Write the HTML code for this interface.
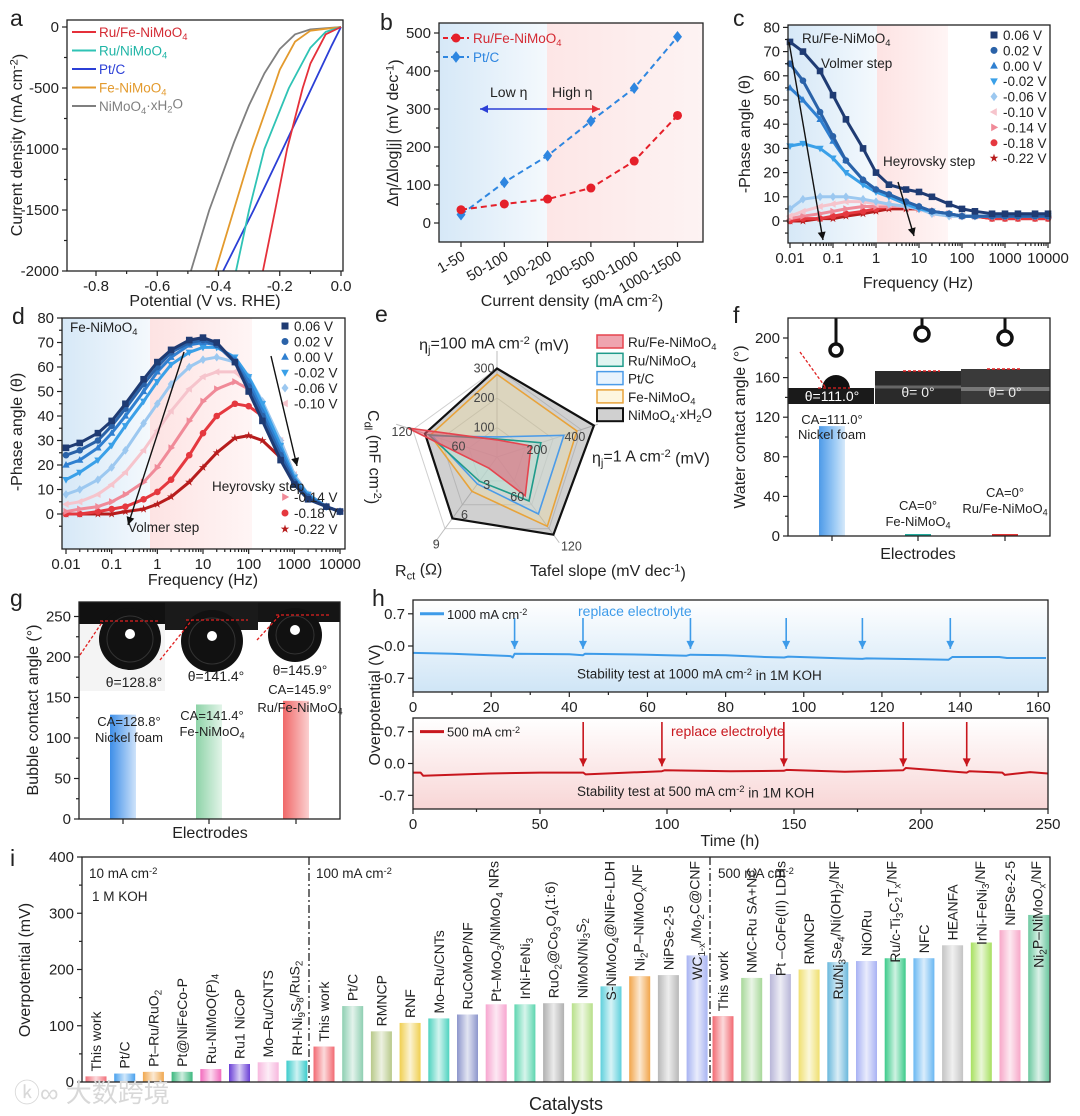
<!DOCTYPE html>
<html><head><meta charset="utf-8"><style>
html,body{margin:0;padding:0;background:#fff;}
svg{display:block;font-family:"Liberation Sans","Noto Sans CJK SC",sans-serif;}
</style></head><body>
<svg id="fig" width="1080" height="1116" viewBox="0 0 1080 1116" xmlns="http://www.w3.org/2000/svg">
<defs>
<linearGradient id="gBlueL" x1="0" x2="1"><stop offset="0" stop-color="#d6e8f7"/><stop offset="1" stop-color="#f4f9fd"/></linearGradient>
<linearGradient id="gRedR" x1="0" x2="1"><stop offset="0" stop-color="#fde6e6"/><stop offset="1" stop-color="#fdf3f3"/></linearGradient>
<linearGradient id="gRedL" x1="0" x2="1"><stop offset="0" stop-color="#fde3e3"/><stop offset="1" stop-color="#fff5f5"/></linearGradient>
<linearGradient id="gHtop" x1="0" y1="0" x2="0" y2="1"><stop offset="0" stop-color="#ffffff"/><stop offset="1" stop-color="#cfe5f6"/></linearGradient>
<linearGradient id="gHbot" x1="0" y1="0" x2="0" y2="1"><stop offset="0" stop-color="#ffffff"/><stop offset="1" stop-color="#f8d6d6"/></linearGradient>
<linearGradient id="shine" x1="0" x2="1"><stop offset="0" stop-color="#fff" stop-opacity="0"/><stop offset="0.5" stop-color="#fff" stop-opacity="0.75"/><stop offset="1" stop-color="#fff" stop-opacity="0"/></linearGradient>
</defs>
</svg>
<script>
// ---------------- DATA ----------------
const aSeriesNames=["Ru/Fe-NiMoO_{4}","Ru/NiMoO_{4}","Pt/C","Fe-NiMoO_{4}","NiMoO_{4}·xH_{2}O"];
const aRedV=[0,-0.05,-0.1,-0.125,-0.176,-0.215,-0.255];
const aRedJ=[0,-60,-300,-500,-1000,-1500,-2000];
const aCyanV=[0,-0.05,-0.1,-0.17,-0.25,-0.3,-0.343];
const aCyanJ=[0,-40,-170,-500,-1000,-1500,-2000];
const aBlueV=[0,-0.03,-0.096,-0.19,-0.285,-0.385];
const aBlueJ=[0,-150,-500,-1000,-1500,-2000];
const aOrangeV=[0,-0.1,-0.15,-0.2,-0.22,-0.29,-0.35,-0.41];
const aOrangeJ=[0,-30,-120,-350,-500,-1000,-1500,-2000];
const aGrayV=[0,-0.1,-0.15,-0.2,-0.25,-0.3,-0.35,-0.43,-0.49];
const aGrayJ=[0,-20,-60,-180,-380,-640,-950,-1500,-2000];

const bCats=["1-50","50-100","100-200","200-500","500-1000","1000-1500"];
const bRed=[35,50,63,92,163,283];
const bBlue=[22,107,177,268,355,490];

const eisFreq=[0.01,0.02,0.05,0.1,0.2,0.5,1,2,5,10,20,50,100,200,500,1000,2000,5000,10000];
const eisLabels=["0.06 V","0.02 V","0.00 V","-0.02 V","-0.06 V","-0.10 V","-0.14 V","-0.18 V","-0.22 V"];
const cS0=[74,70,62,52,42,30,20,15,13,12,10,7,5,4,3,3,3,3,3];
const cS1=[65,58,45,35,25,17,13,11,8,6,4,3,2,2,2,2,2,2,2];
const cS2=[55,50,42,33,25,17,13,11,8,6,4,3,2,2,2,2,2,2,2];
const cS3=[31,32,30,26,20,15,12,10,7,5,4,3,2,2,2,2,2,2,2];
const cS4=[5,9,10,10,10,9,8,7,6,5,3,2,2,2,2,2,2,2,2];
const cS5=[2,4,6,7,8,8,7,7,6,5,3,2,2,2,2,2,2,2,2];
const cS6=[1,2,3,4,5,6,6,6,6,5,4,3,2,2,2,2,2,2,2];
const cS7=[0,1,1,2,3,4,5,6,6,5,4,3,2,2,1,1,1,1,1];
const cS8=[0,0,1,1,2,3,4,5,5,5,4,3,2,2,1,1,1,1,1];
const dS0=[27,29,33,38,45,55,62,67,71,72,70,62,50,38,22,12,6,3,1];
const dS1=[24,26,30,36,43,53,60,66,70,71,69,62,52,40,24,13,7,3,1];
const dS2=[20,22,27,33,40,50,58,64,69,70,69,63,54,42,26,14,7,3,1];
const dS3=[14,17,22,28,36,46,54,61,66,68,68,64,56,45,28,15,8,3,1];
const dS4=[8,10,14,19,26,37,45,53,60,63,64,62,56,46,30,16,8,3,1];
const dS5=[4,5,8,12,17,26,34,42,51,56,58,58,53,45,30,16,8,3,1];
const dS6=[1,2,3,5,8,13,19,27,38,46,51,54,51,44,30,16,8,3,1];
const dS7=[0,0,1,2,3,6,9,14,24,33,40,45,44,40,28,15,8,3,1];
const dS8=[0,0,0,0,1,2,4,7,13,19,25,31,32,30,23,13,7,3,1];

const eAxes=["ηj100","ηj1A","Tafel","Rct","Cdl"];
const eNames=["NiMoO_{4}·xH_{2}O","Fe-NiMoO_{4}","Pt/C","Ru/NiMoO_{4}","Ru/Fe-NiMoO_{4}"];
const eBlack=[300,485,120,6.6,97];
const eOrange=[280,400,107,3.7,90];
const eBlue=[68,335,88,2.9,87];
const eTeal=[61,220,68,2.6,92];
const eRed=[58,170,60,1.2,120];

const fCats=["Nickel foam","Fe-NiMoO_{4}","Ru/Fe-NiMoO_{4}"];
const fVals=[111,2,2];
const gCats=["Nickel foam","Fe-NiMoO_{4}","Ru/Fe-NiMoO_{4}"];
const gVals=[128.8,141.4,145.9];

const hTopT=[0,10,25,25.5,26,40,43.5,44,60,70,71,80,90,95,96,110,115,116,130,137,138,150,152,162];
const hTopV=[-0.15,-0.17,-0.22,-0.25,-0.17,-0.18,-0.2,-0.17,-0.19,-0.21,-0.19,-0.2,-0.24,-0.25,-0.23,-0.27,-0.28,-0.27,-0.29,-0.3,-0.24,-0.24,-0.26,-0.26];
const hTopArrows=[26,43.5,71,95.5,115,137.5];
const hBotT=[0,3,4,30,50,67,68,98,99,125,146,147,170,193,194,218,219,232,233,243,250];
const hBotV=[-0.2,-0.2,-0.27,-0.22,-0.2,-0.2,-0.24,-0.17,-0.15,-0.17,-0.16,-0.14,-0.18,-0.15,-0.1,-0.2,-0.17,-0.2,-0.25,-0.19,-0.22];
const hBotArrows=[67,98,146,193,218];

const iCats=["This work","Pt/C","Pt–Ru/RuO_{2}","Pt@NiFeCo-P","Ru-NiMoO(P)_{4}","Ru1 NiCoP","Mo–Ru/CNTS","RH-Ni_{9}S_{8}/RuS_{2}",
"This work","Pt/C","RMNCP","RNF","Mo–Ru/CNTs","RuCoMoP/NF","Pt–MoO_{3}/NiMoO_{4} NRs","IrNi-FeNi_{3}","RuO_{2}@Co_{3}O_{4}(1:6)","NiMoN/Ni_{3}S_{2}","S-NiMoO_{4}@NiFe-LDH","Ni_{2}P–NiMoO_{x}/NF","NiPSe-2-5","WC_{1-x}/Mo_{2}C@CNF",
"This work","NMC-Ru SA+NC","Pt –CoFe(II) LDHs","RMNCP","Ru/Ni_{3}Se_{4}/Ni(OH)_{2}/NF","NiO/Ru","Ru/c-Ti_{3}C_{2}T_{x}/NF","NFC","HEANFA","IrNi-FeNi_{3}/NF","NiPSe-2-5","Ni_{2}P–NiMoO_{x}/NF"];
const iVals=[10,15,18,18,23,32,35,38, 63,135,90,105,113,120,138,138,140,140,170,188,190,225, 117,185,192,200,213,215,220,220,243,248,270,297];
const iGroupSizes=[8,14,12];
const iColors=["#f2707a","#4aa2ee","#f0a850","#3cb87e","#f26bbd","#6a3fd6","#f7b8de","#3ccccc",
"#f26a72","#8fcfb2","#b8c98a","#f0cf50","#4fd3c0","#8d96cc","#f7a6d0","#5ed6b0","#b0b0b0","#b8e08a","#5fd0dc","#f2a54a","#b8b8b8","#a8b4f2",
"#f26a72","#a8d89a","#b8b6d8","#f0e070","#6ab8dc","#a8b2f4","#3ccb8a","#6ab8f2","#c4c4c4","#a8e060","#f7a8c8","#6cc8a0"];

// ---------------- HELPERS ----------------
const NS='http://www.w3.org/2000/svg';
const svg=document.getElementById('fig');
function el(tag,attrs,name,parent){
  const e=document.createElementNS(NS,tag);
  for(const k in attrs){ if(attrs[k]!==undefined && attrs[k]!=='') e.setAttribute(k,attrs[k]); }
  
  
  (parent||svg).appendChild(e);
  return e;
}
function tx(x,y,s,name,opt,parent){
  opt=opt||{};
  const t=el('text',{x:x,y:y,'font-size':opt.fs||14,'text-anchor':opt.anchor||'start',fill:opt.fill||'#222','font-weight':opt.fw,transform:opt.rot?('rotate('+opt.rot+' '+x+' '+y+')'):undefined},name,parent);
  const re=/(_|\^)\{([^}]*)\}/g; let last=0,m,shift=0;
  const add=(str,kind)=>{
    if(!str) return;
    const sp=el('tspan',{},name+'-part',t);
    let target=kind==='_'?0.3:(kind==='^'?-0.4:0);
    const dy=target-shift; if(dy!==0) sp.setAttribute('dy',dy+'em');
    if(kind) sp.setAttribute('font-size','70%');
    shift=target;
    sp.textContent=str;
  };
  while((m=re.exec(s))){ add(s.slice(last,m.index),null); add(m[2],m[1]); last=re.lastIndex; }
  add(s.slice(last),null);
  return t;
}
function lin(d0,d1,r0,r1){return v=>r0+(v-d0)*(r1-r0)/(d1-d0);}
function logS(d0,d1,r0,r1){const a=Math.log10(d0),b=Math.log10(d1);return v=>r0+(Math.log10(v)-a)*(r1-r0)/(b-a);}
function frame(x0,y0,x1,y1,name){return el('rect',{x:x0,y:y0,width:x1-x0,height:y1-y0,fill:'none',stroke:'#222','stroke-width':1.3},name);}
function line(x1,y1,x2,y2,name,st,parent){return el('line',{x1:x1,y1:y1,x2:x2,y2:y2,stroke:(st&&st.c)||'#222','stroke-width':(st&&st.w)||1.2,'stroke-dasharray':st&&st.d},name,parent);}
function poly(pts,name,st){return el('polyline',{points:pts.map(p=>p[0].toFixed(1)+','+p[1].toFixed(1)).join(' '),fill:'none',stroke:st.c,'stroke-width':st.w||1.8,'stroke-dasharray':st.d,'stroke-linejoin':'round'},name);}
function marker(shape,x,y,s,c,name){
  let d;
  if(shape==='square') d=`M${x-s},${y-s}h${2*s}v${2*s}h${-2*s}z`;
  else if(shape==='circle') return el('circle',{cx:x,cy:y,r:s,fill:c},name);
  else if(shape==='up') d=`M${x},${y-s*1.2}L${x+s*1.1},${y+s*0.8}L${x-s*1.1},${y+s*0.8}z`;
  else if(shape==='down') d=`M${x},${y+s*1.2}L${x+s*1.1},${y-s*0.8}L${x-s*1.1},${y-s*0.8}z`;
  else if(shape==='diamond') d=`M${x},${y-s*1.3}L${x+s},${y}L${x},${y+s*1.3}L${x-s},${y}z`;
  else if(shape==='left') d=`M${x-s*1.2},${y}L${x+s*0.8},${y-s*1.1}L${x+s*0.8},${y+s*1.1}z`;
  else if(shape==='right') d=`M${x+s*1.2},${y}L${x-s*0.8},${y-s*1.1}L${x-s*0.8},${y+s*1.1}z`;
  else { let p=''; for(let k=0;k<10;k++){const r=k%2?s*0.5:s*1.3;const a=-Math.PI/2+k*Math.PI/5;p+=(k?'L':'M')+(x+r*Math.cos(a)).toFixed(1)+','+(y+r*Math.sin(a)).toFixed(1);} d=p+'z'; }
  return el('path',{d:d,fill:c},name);
}
function arrow(x1,y1,x2,y2,c,name,w){
  line(x1,y1,x2,y2,name+'-shaft',{c:c,w:w||1.5});
  const a=Math.atan2(y2-y1,x2-x1),L=8,W=4;
  const bx=x2-L*Math.cos(a),by=y2-L*Math.sin(a);
  el('path',{d:`M${x2},${y2}L${bx+W*Math.sin(a)},${by-W*Math.cos(a)}L${bx-W*Math.sin(a)},${by+W*Math.cos(a)}z`,fill:c},name+'-head');
}
function yTicks(vals,sy,x0,name,fmt,minor){
  vals.forEach(v=>{line(x0-5,sy(v),x0,sy(v),name+'-tick');tx(x0-8,sy(v)+5,fmt?fmt(v):String(v),name+'-label',{fs:15,anchor:'end'});});
  if(minor) minor.forEach(v=>line(x0-3,sy(v),x0,sy(v),name+'-minor-tick'));
}
function xTicks(vals,sx,y0,name,labels,minor){
  vals.forEach((v,i)=>{line(sx(v),y0,sx(v),y0+5,name+'-tick');tx(sx(v),y0+20,labels?labels[i]:String(v),name+'-label',{fs:15,anchor:'middle'});});
  if(minor) minor.forEach(v=>line(sx(v),y0,sx(v),y0+3,name+'-minor-tick'));
}
function letter(x,y,s){tx(x,y,s,'panel-label-'+s,{fs:23});}

// ---------------- PANEL a ----------------
(function(){
  const x0=67,x1=343,y0=20,y1=271;
  const sx=lin(-0.8,0,96,341), sy=lin(0,-2000,27,271);
  letter(10,26,'a');
  const cols=["#e5303a","#2fc3b5","#2b3fd6","#e39a2d","#7f7f7f"];
  const V=[aRedV,aCyanV,aBlueV,aOrangeV,aGrayV], J=[aRedJ,aCyanJ,aBlueJ,aOrangeJ,aGrayJ];
  for(let s=4;s>=0;s--) poly(V[s].map((v,i)=>[sx(v),sy(J[s][i])]),'lsv-curve-'+s,{c:cols[s],w:1.8});
  frame(x0,y0,x1,y1,'panel-a-frame');
  yTicks([0,-500,-1000,-1500,-2000],sy,x0,'a-y',null,[-250,-750,-1250,-1750]);
  xTicks([-0.8,-0.6,-0.4,-0.2,0],sx,y1,'a-x',["-0.8","-0.6","-0.4","-0.2","0.0"],[-0.7,-0.5,-0.3,-0.1]);
  tx(22,145,'Current density (mA cm^{-2})','a-y-title',{fs:16,anchor:'middle',rot:-90});
  tx(205,306,'Potential (V vs. RHE)','a-x-title',{fs:16,anchor:'middle'});
  const lc=["#d42a33","#1fb5a6","#2b3fd6","#e39a2d","#7f7f7f"];
  aSeriesNames.forEach((n,i)=>{const y=32+i*18.5;line(72,y,96,y,'a-legend-line',{c:cols[i],w:2});tx(99,y+5,n,'a-legend-entry',{fs:13.5,fill:lc[i]});});
})();

// ---------------- PANEL b ----------------
(function(){
  const x0=439,x1=703,y0=23,y1=242;
  const sx=i=>461+i*43.3, sy=lin(0,500,223,33);
  letter(380,30,'b');
  el('rect',{x:x0,y:y0,width:547-x0,height:y1-y0,fill:'url(#gBlueL)'},'low-eta-region');
  el('rect',{x:547,y:y0,width:x1-547,height:y1-y0,fill:'url(#gRedR)'},'high-eta-region');
  arrow(547,109,480,109,'#2b3fd6','low-eta-arrow');
  arrow(547,109,600,109,'#e5303a','high-eta-arrow');
  tx(490,97,'Low η','low-eta-label',{fs:14});
  tx(552,97,'High η','high-eta-label',{fs:14});
  poly(bBlue.map((v,i)=>[sx(i),sy(v)]),'b-ptc-line',{c:'#2e86e0',w:2,d:'6 4'});
  poly(bRed.map((v,i)=>[sx(i),sy(v)]),'b-rufe-line',{c:'#e5202a',w:2,d:'6 4'});
  bBlue.forEach((v,i)=>marker('diamond',sx(i),sy(v),4.5,'#2e86e0','b-ptc-point'));
  bRed.forEach((v,i)=>marker('circle',sx(i),sy(v),4.5,'#e5202a','b-rufe-point'));
  frame(x0,y0,x1,y1,'panel-b-frame');
  yTicks([0,100,200,300,400,500],sy,x0,'b-y',null,[50,150,250,350,450]);
  bCats.forEach((c,i)=>{line(sx(i),y1,sx(i),y1+5,'b-x-tick');tx(sx(i)+5,y1+17,c,'b-x-label',{fs:14.5,anchor:'end',rot:-30});});
  tx(398,133,'Δη/Δlog|j| (mV dec^{-1})','b-y-title',{fs:16,anchor:'middle',rot:-90});
  tx(572,306,'Current density (mA cm^{-2})','b-x-title',{fs:16,anchor:'middle'});
  line(443,38,469,38,'b-legend-line',{c:'#e5202a',w:2,d:'5 3'});marker('circle',456,38,4.5,'#e5202a','b-legend-marker');
  tx(473,43,'Ru/Fe-NiMoO_{4}','b-legend-entry',{fs:13.5,fill:'#d42a33'});
  line(443,57,469,57,'b-legend-line',{c:'#2e86e0',w:2,d:'5 3'});marker('diamond',456,57,4.5,'#2e86e0','b-legend-marker');
  tx(473,62,'Pt/C','b-legend-entry',{fs:13.5,fill:'#2e86e0'});
})();

// ---------------- EIS panels c & d ----------------
const eisCols=["#1f3b73","#2a62a8","#2f7fd0","#3aa0e8","#9cc8f0","#f6c4cc","#f08a98","#e5383f","#b71c1c"];
const eisShapes=["square","circle","up","down","diamond","left","right","circle","star"];
function eisPanel(key,x0,x1,y0,y1,sx,sy,series,shadeB,shadeP){
  el('rect',{x:x0,y:y0,width:shadeB-x0,height:y1-y0,fill:'url(#gBlueL)'},key+'-volmer-region');
  el('rect',{x:shadeB,y:y0,width:shadeP-shadeB,height:y1-y0,fill:'url(#gRedL)'},key+'-heyrovsky-region');
  for(let s=series.length-1;s>=0;s--){
    poly(eisFreq.map((f,i)=>[sx(f),sy(series[s][i])]),key+'-series-'+s,{c:eisCols[s],w:3});
    eisFreq.forEach((f,i)=>marker(eisShapes[s],sx(f),sy(series[s][i]),3.3,eisCols[s],key+'-point'));
  }
  frame(x0,y0,x1,y1,'panel-'+key+'-frame');
  const dec=[0.01,0.1,1,10,100,1000,10000];
  const minor=[];dec.slice(0,-1).forEach(d=>{for(let k=2;k<10;k++)minor.push(d*k);});
  xTicks(dec,sx,y1,key+'-x',["0.01","0.1","1","10","100","1000","10000"],minor);
  yTicks([0,10,20,30,40,50,60,70,80].filter(v=>sy(v)>=y0-1),sy,x0,key+'-y',null,[-5,5,15,25,35,45,55,65,75].filter(v=>sy(v)>=y0&&sy(v)<=y1));
}
(function(){
  const x0=788,x1=1050,y0=25,y1=243;
  const sx=logS(0.01,10000,790,1048), sy=lin(0,10,221,196.8);
  letter(733,26,'c');
  eisPanel('c',x0,x1,y0,y1,sx,sy,[cS0,cS1,cS2,cS3,cS4,cS5,cS6,cS7,cS8],877,948);
  eisLabels.forEach((l,i)=>{const y=35+i*15.4;marker(eisShapes[i],994,y,3.5,eisCols[i],'c-legend-marker');tx(1003,y+5,l,'c-legend-entry',{fs:13.5});});
  tx(802,43,'Ru/Fe-NiMoO_{4}','c-sample-label',{fs:13.5});
  tx(821,68,'Volmer step','c-volmer-label',{fs:13.5});
  tx(883,166,'Heyrovsky step','c-heyrovsky-label',{fs:13.5});
  arrow(789,42,823,240,'#111','c-volmer-arrow',1.4);
  arrow(898,182,914,236,'#111','c-heyrovsky-arrow',1.4);
  tx(750,134,'-Phase angle (θ)','c-y-title',{fs:16,anchor:'middle',rot:-90});
  tx(918,288,'Frequency (Hz)','c-x-title',{fs:16,anchor:'middle'});
})();
(function(){
  const x0=62,x1=345,y0=318,y1=549;
  const sx=logS(0.01,10000,66,340), sy=lin(0,10,514,489.5);
  letter(12,324,'d');
  eisPanel('d',x0,x1,y0,y1,sx,sy,[dS0,dS1,dS2,dS3,dS4,dS5,dS6,dS7,dS8],150,252);
  eisLabels.forEach((l,i)=>{const y=i<6?326+i*15.5:497+(i-6)*16;marker(eisShapes[i],285,y,3.5,eisCols[i],'d-legend-marker');tx(294,y+5,l,'d-legend-entry',{fs:13.5});});
  tx(70,332,'Fe-NiMoO_{4}','d-sample-label',{fs:13.5});
  tx(128,532,'Volmer step','d-volmer-label',{fs:13.5});
  tx(212,491,'Heyrovsky step','d-heyrovsky-label',{fs:13.5});
  arrow(184,352,128,525,'#111','d-volmer-arrow',1.4);
  arrow(271,356,297,466,'#111','d-heyrovsky-arrow',1.4);
  tx(22,432,'-Phase angle (θ)','d-y-title',{fs:16,anchor:'middle',rot:-90});
  tx(203,585,'Frequency (Hz)','d-x-title',{fs:16,anchor:'middle'});
})();

// ---------------- PANEL e (radar) ----------------
(function(){
  letter(375,322,'e');
  const cx=497,cy=457;
  const ang=[-90,-18,54,126,198].map(a=>a*Math.PI/180);
  const rs=[v=>0.295*v,v=>0.21*v,v=>0.8*v,v=>11.5*v,v=>0.78*v];
  const P=(k,r)=>[cx+r*Math.cos(ang[k]),cy+r*Math.sin(ang[k])];
  [29.5,59,88.5].forEach(r=>el('polygon',{points:ang.map((a,k)=>P(k,r).join(',')).join(' '),fill:'none',stroke:'#cfcfcf','stroke-width':1},'radar-grid-ring'));
  ang.forEach((a,k)=>{const p=P(k,106);line(cx,cy,p[0],p[1],'radar-axis-'+eAxes[k],{c:'#bdbdbd',w:1});});
  const sets=[eBlack,eOrange,eBlue,eTeal,eRed];
  const strokes=["#111","#e8a33a","#4b9be8","#1f9b8a","#e5454f"];
  const fills=["rgba(150,150,150,0.45)","rgba(250,225,150,0.3)","rgba(190,220,250,0.35)","rgba(170,225,215,0.35)","rgba(225,90,110,0.55)"];
  sets.forEach((vals,s)=>{
    el('polygon',{points:vals.map((v,k)=>P(k,rs[k](v)).map(n=>n.toFixed(1)).join(',')).join(' '),fill:fills[s],stroke:strokes[s],'stroke-width':s===0?2.2:1.6},'radar-series-'+s);
  });
  const lab=(k,v,s,dx,dy)=>{const p=P(k,rs[k](v));tx(p[0]+dx,p[1]+dy,s,'radar-tick-label',{fs:12.5,anchor:'middle',fill:'#444'});};
  lab(0,100,'100',-13,4);lab(0,200,'200',-13,4);lab(0,300,'300',-13,4);
  lab(1,200,'200',0,10);lab(1,400,'400',-2,10);
  lab(2,60,'60',-8,5);lab(2,120,'120',18,16);
  lab(3,3,'3',10,4);lab(3,6,'6',8,6);lab(3,9,'9',0,8);
  lab(4,60,'60',6,8);lab(4,120,'120',-6,8);
  tx(494,350,'η_{j}=100 mA cm^{-2} (mV)','radar-axis-title-eta100',{fs:16,anchor:'middle'});
  tx(592,463,'η_{j}=1 A cm^{-2} (mV)','radar-axis-title-eta1A',{fs:16});
  tx(530,576,'Tafel slope (mV dec^{-1})','radar-axis-title-tafel',{fs:16});
  tx(395,576,'R_{ct} (Ω)','radar-axis-title-rct',{fs:16});
  tx(368,410,'C_{dl} (mF cm^{-2})','radar-axis-title-cdl',{fs:16,anchor:'start',rot:90});
  const legOrder=[4,3,2,1,0];
  legOrder.forEach((s,i)=>{const y=342+i*18.3;el('rect',{x:597,y:y-7,width:26,height:13,fill:fills[s],stroke:strokes[s],'stroke-width':s===0?2:1.5},'radar-legend-swatch');tx(628,y+5,eNames[s],'radar-legend-entry',{fs:13.5});});
})();

// ---------------- PANEL f ----------------
(function(){
  const x0=788,x1=1050,y0=318,y1=536;
  const sy=lin(0,200,536,338);
  const centers=[832,918,1005];
  letter(733,323,'f');
  el('rect',{x:788,y:388,width:86,height:16,fill:'#1a1a1a'},'f-photo-nickel-foam');
  el('rect',{x:875,y:371,width:86,height:33,fill:'#2a2a2a'},'f-photo-fe-nimoo4');
  el('rect',{x:961,y:369,width:89,height:35,fill:'#3a3a3a'},'f-photo-rufe-nimoo4');
  line(875,387,961,387,'f-photo-layer',{c:'#666',w:3});line(961,389,1050,389,'f-photo-layer',{c:'#777',w:4});
  el('path',{d:'M822,389 A14,14 0 1 1 850,389 Z',fill:'#111'},'f-water-droplet');
  line(836,318,836,343,'f-needle',{c:'#111',w:3});el('circle',{cx:836,cy:350,r:6,fill:'none',stroke:'#111','stroke-width':3.5},'f-needle-drop');
  line(922,318,922,327,'f-needle',{c:'#111',w:3});el('circle',{cx:922,cy:334,r:7,fill:'none',stroke:'#111','stroke-width':3.5},'f-needle-drop');
  line(1005,318,1005,330,'f-needle',{c:'#111',w:3});el('circle',{cx:1005,cy:338,r:7,fill:'none',stroke:'#111','stroke-width':3.5},'f-needle-drop');
  line(800,352,826,388,'f-angle-line',{c:'#e02020',w:1.3,d:'3 2'});line(818,388,850,388,'f-angle-line',{c:'#e02020',w:1.3,d:'3 2'});
  line(903,371,940,371,'f-angle-line',{c:'#e02020',w:1.5,d:'3 2'});line(987,369,1022,369,'f-angle-line',{c:'#e02020',w:1.5,d:'3 2'});
  tx(832,401,'θ=111.0°','f-theta-nickel-foam',{fs:14,anchor:'middle',fill:'#fff'});
  tx(918,397,'θ= 0°','f-theta-fe-nimoo4',{fs:14,anchor:'middle',fill:'#eee'});
  tx(1005,397,'θ= 0°','f-theta-rufe-nimoo4',{fs:14,anchor:'middle',fill:'#eee'});
  const fc=['url(#fBlue)','#1fa89a','#e03030'];
  const gr=el('linearGradient',{id:'fBlue',x1:0,x2:1},'f-bar-gradient',svg.querySelector('defs'));
  el('stop',{offset:0,'stop-color':'#4d9ae8'},'f-stop',gr);el('stop',{offset:0.6,'stop-color':'#9ccaf5'},'f-stop',gr);el('stop',{offset:1,'stop-color':'#d6e9fa'},'f-stop',gr);
  fVals.forEach((v,i)=>el('rect',{x:centers[i]-13,y:sy(v),width:26,height:sy(0)-sy(v),fill:fc[i]},'f-bar-'+i));
  frame(x0,y0,x1,y1,'panel-f-frame');
  yTicks([0,40,80,120,160,200],sy,x0,'f-y',null,[20,60,100,140,180]);
  centers.forEach(c=>line(c,y1,c,y1+5,'f-x-tick'));
  tx(832,424,'CA=111.0°','f-ca-label',{fs:13,anchor:'middle'});tx(832,439,'Nickel foam','f-sample-label',{fs:13,anchor:'middle'});
  tx(918,510,'CA=0°','f-ca-label',{fs:13,anchor:'middle'});tx(918,526,'Fe-NiMoO_{4}','f-sample-label',{fs:13,anchor:'middle'});
  tx(1005,497,'CA=0°','f-ca-label',{fs:13,anchor:'middle'});tx(1005,513,'Ru/Fe-NiMoO_{4}','f-sample-label',{fs:13,anchor:'middle'});
  tx(745,427,'Water contact angle (°)','f-y-title',{fs:16,anchor:'middle',rot:-90});
  tx(918,559,'Electrodes','f-x-title',{fs:16,anchor:'middle'});
})();

// ---------------- PANEL g ----------------
(function(){
  const x0=79,x1=340,y0=602,y1=819;
  const sy=lin(0,250,819,616.5);
  const centers=[123,209,296];
  letter(10,606,'g');
  el('rect',{x:79,y:602,width:86,height:22,fill:'#111'},'g-photo-top');
  el('rect',{x:165,y:602,width:93,height:28,fill:'#1a1a1a'},'g-photo-top');
  el('rect',{x:258,y:602,width:82,height:20,fill:'#151515'},'g-photo-top');
  el('rect',{x:79,y:624,width:86,height:67,fill:'#f4f4f4'},'g-photo-bg');
  [[130,639,31],[212,641,31],[295,635,27]].forEach((c,i)=>{el('circle',{cx:c[0],cy:c[1],r:c[2],fill:'#111'},'g-bubble-'+i);el('circle',{cx:c[0],cy:c[1],r:c[2]-8,fill:'none',stroke:'#333','stroke-width':1},'g-bubble-ring');el('circle',{cx:c[0],cy:c[1]-5,r:5,fill:'#fff'},'g-bubble-highlight');});
  line(80,655,103,621,'g-angle-line',{c:'#e02020',w:1.3,d:'3 2'});line(100,621,160,621,'g-angle-line',{c:'#e02020',w:1.3,d:'3 2'});
  line(160,660,192,620,'g-angle-line',{c:'#e02020',w:1.3,d:'3 2'});line(186,620,248,620,'g-angle-line',{c:'#e02020',w:1.3,d:'3 2'});
  line(257,640,280,615,'g-angle-line',{c:'#e02020',w:1.3,d:'3 2'});line(276,615,330,615,'g-angle-line',{c:'#e02020',w:1.3,d:'3 2'});
  tx(134,687,'θ=128.8°','g-theta',{fs:14,anchor:'middle'});
  tx(216,681,'θ=141.4°','g-theta',{fs:14,anchor:'middle'});
  tx(300,675,'θ=145.9°','g-theta',{fs:13.5,anchor:'middle'});
  const gCols=[['#3d8ee8','#cfe3fa'],['#8ed3a8','#e2f4e8'],['#f06868','#fbd0d0']];
  gVals.forEach((v,i)=>{
    const g=el('linearGradient',{id:'gb'+i,x1:0,x2:1},'g-bar-gradient',svg.querySelector('defs'));
    el('stop',{offset:0,'stop-color':gCols[i][0]},'g-stop',g);el('stop',{offset:1,'stop-color':gCols[i][1]},'g-stop',g);
    el('rect',{x:centers[i]-13,y:sy(v),width:26,height:sy(0)-sy(v),fill:'url(#gb'+i+')'},'g-bar-'+i);
  });
  frame(x0,y0,x1,y1,'panel-g-frame');
  yTicks([0,50,100,150,200,250],sy,x0,'g-y',null,[25,75,125,175,225]);
  centers.forEach(c=>line(c,y1,c,y1+5,'g-x-tick'));
  tx(129,726,'CA=128.8°','g-ca-label',{fs:13,anchor:'middle'});tx(129,742,'Nickel foam','g-sample-label',{fs:13,anchor:'middle'});
  tx(212,720,'CA=141.4°','g-ca-label',{fs:13,anchor:'middle'});tx(212,736,'Fe-NiMoO_{4}','g-sample-label',{fs:13,anchor:'middle'});
  tx(300,694,'CA=145.9°','g-ca-label',{fs:13,anchor:'middle'});tx(300,712,'Ru/Fe-NiMoO_{4}','g-sample-label',{fs:13,anchor:'middle'});
  tx(38,710,'Bubble contact angle (°)','g-y-title',{fs:16,anchor:'middle',rot:-90});
  tx(210,838,'Electrodes','g-x-title',{fs:16,anchor:'middle'});
})();

// ---------------- PANEL h ----------------
(function(){
  letter(372,606,'h');
  const x0=413,x1=1048;
  function sub(key,yt,yb,T,V,tmax,ticks,arrows,col,grad,legend,test,repX,repY,arrowTop){
    const sxx=lin(0,tmax,x0,x1);
    const sy=lin(-1,1,yb,yt);
    el('rect',{x:x0,y:yt,width:x1-x0,height:yb-yt,fill:grad},'h-'+key+'-background');
    poly(T.map((t,i)=>[sxx(t),sy(V[i])]),'h-'+key+'-stability-line',{c:col,w:2});
    arrows.forEach(t=>arrow(sxx(t),arrowTop,sxx(t),sy(-0.15)-4,col,'h-'+key+'-replace-arrow',1.6));
    frame(x0,yt,x1,yb,'h-'+key+'-frame');
    yTicks([0.7,0,-0.7],sy,x0,'h-'+key+'-y',v=>v.toFixed(1));
    const mt=[];for(let t=ticks[1]/2;t<tmax;t+=ticks[1])mt.push(t);
    xTicks(ticks,sxx,yb,'h-'+key+'-x',null,mt);
    line(420,sy(0.7),444,sy(0.7),'h-'+key+'-legend-line',{c:col,w:3});
    tx(447,sy(0.7)+5,legend,'h-'+key+'-legend-entry',{fs:13});
    tx(repX,repY,'replace electrolyte','h-'+key+'-replace-label',{fs:14,fill:col});
    tx(577,sy(-0.6)+5,test,'h-'+key+'-test-label',{fs:13.5});
  }
  sub('top',600,692,hTopT,hTopV,162.5,[0,20,40,60,80,100,120,140,160],hTopArrows,'#3d9be9','url(#gHtop)','1000 mA cm^{-2}','Stability test at 1000 mA cm^{-2} in 1M KOH',578,616,618);
  sub('bottom',718,809,hBotT,hBotV,250,[0,50,100,150,200,250],hBotArrows,'#c8161d','url(#gHbot)','500 mA cm^{-2}','Stability test at 500 mA cm^{-2} in 1M KOH',671,736,722);
  tx(380,705,'Overpotential (V)','h-y-title',{fs:16,anchor:'middle',rot:-90});
  tx(730,846,'Time (h)','h-x-title',{fs:16,anchor:'middle'});
})();

// ---------------- PANEL i ----------------
(function(){
  const x0=82,x1=1050,y0=857,y1=1082;
  const sy=lin(0,400,1082,857);
  letter(10,866,'i');
  const starts=[96,324,723], step=28.7, bw=21;
  const cxs=[];
  iGroupSizes.forEach((n,g)=>{for(let k=0;k<n;k++){cxs.push(starts[g]+k*step);}});
  iVals.forEach((v,i)=>{
    const c=cxs[i];
    el('rect',{x:c-bw/2,y:sy(v),width:bw,height:sy(0)-sy(v),fill:iColors[i]},'i-bar-'+i);
    el('rect',{x:c-bw/2,y:sy(v),width:bw,height:sy(0)-sy(v),fill:'url(#shine)'},'i-bar-shine');
    let start=sy(v)-5;
    const t=tx(c+5,start,iCats[i],'i-bar-label',{fs:14,anchor:'start',rot:-90});
    let len=0;try{len=t.getComputedTextLength();}catch(e){}
    if(start-len<861){start=861+len;t.setAttribute('y',start);t.setAttribute('transform','rotate(-90 '+(c+5)+' '+start+')');}
  });
  line(309,y0,309,y1,'i-group-divider',{c:'#222',w:1.3,d:'8 3 2 3'});
  line(710,y0,710,y1,'i-group-divider',{c:'#222',w:1.3,d:'8 3 2 3'});
  frame(x0,y0,x1,y1,'panel-i-frame');
  yTicks([0,100,200,300,400],sy,x0,'i-y',null,[50,150,250,350]);
  tx(89,878,'10 mA cm^{-2}','i-group-label-10',{fs:13.5});
  tx(92,901,'1 M KOH','i-electrolyte-label',{fs:13.5});
  tx(316,878,'100 mA cm^{-2}','i-group-label-100',{fs:13.5});
  tx(718,878,'500 mA cm^{-2}','i-group-label-500',{fs:13.5});
  tx(30,970,'Overpotential (mV)','i-y-title',{fs:16,anchor:'middle',rot:-90});
  tx(566,1110,'Catalysts','i-x-title',{fs:18,anchor:'middle'});
  tx(14,1102,'ⓚ∞ 大数跨境','watermark',{fs:26,fill:'#d8d8d8'});
})();
</script>
</body></html>
